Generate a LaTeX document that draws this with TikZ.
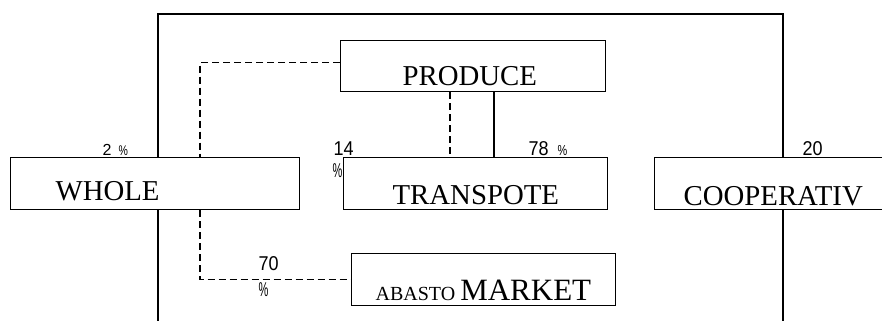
\documentclass[tikz,border=0pt]{standalone}
\usepackage{fontspec}
\setmainfont{Liberation Serif}
\newfontfamily\labelfont{Liberation Sans}
\begin{document}
\begin{tikzpicture}[x=1pt, y=-1pt,
  every path/.style={line width=1.2pt},
  chartbox/.style={draw, line width=1.2pt, rectangle, anchor=north west, inner sep=0pt},
  boxtext/.style={anchor=base west, inner sep=0pt, font=\fontsize{28.8}{30}\selectfont},
  pctlabel/.style={anchor=base west, inner sep=0pt},
  dsh/.style={dash pattern=on 7pt off 4pt}]
  \useasboundingbox (0,0) rectangle (882,321);

  % boxes
  \node[chartbox, minimum width=265pt, minimum height=51pt] (prod) at (340,40) {};
  \node[chartbox, minimum width=289pt, minimum height=52pt] (whole) at (10,157) {};
  \node[chartbox, minimum width=264pt, minimum height=52pt] (trans) at (343,157) {};
  \node[chartbox, minimum width=240pt, minimum height=52pt] (coop) at (654,157) {};
  \node[chartbox, minimum width=264pt, minimum height=52pt] (abasto) at (351,253) {};

  % box texts
  \node[boxtext] (prodt) at (402,85) {PRODUCE};
  \node[boxtext] (wholet) at (55,200) {WHOLE};
  \node[boxtext] (transt) at (392,204) {TRANSPOTE};
  \node[boxtext] (coopt) at (683,205) {COOPERATIV};
  \node[boxtext] (abastot) at (375,300)
    {{\fontsize{20}{24}\selectfont ABASTO }{\fontsize{31}{32}\selectfont MARKET}};

  % share labels
  \node[pctlabel] (p2) at (102,155)
    {\labelfont\fontsize{16}{16}\selectfont 2\hspace{7pt}\scalebox{0.75}[1]{\fontsize{14}{14}\selectfont\%}};
  \node[pctlabel] (p14) at (333,155)
    {\labelfont\scalebox{0.9}[1]{\fontsize{20}{20}\selectfont 14}};
  \node[pctlabel] (p14b) at (332,177)
    {\labelfont\scalebox{0.55}[1]{\fontsize{20}{20}\selectfont\%}};
  \node[pctlabel] (p78) at (528,155)
    {\labelfont\scalebox{0.9}[1]{\fontsize{20}{20}\selectfont 78}\hspace{9pt}\scalebox{0.75}[1]{\fontsize{14.5}{14.5}\selectfont\%}};
  \node[pctlabel] (p20) at (802,155)
    {\labelfont\scalebox{0.9}[1]{\fontsize{20}{20}\selectfont 20}};
  \node[pctlabel] (p70) at (258,270)
    {\labelfont\scalebox{0.9}[1]{\fontsize{20}{20}\selectfont 70}};
  \node[pctlabel] (p70b) at (258,296)
    {\labelfont\scalebox{0.55}[1]{\fontsize{20}{20}\selectfont\%}};

  % reference points for the connectors
  \coordinate (fl) at (158,14);
  \coordinate (fr) at (783,14);
  \coordinate (bot) at (0,321);
  \coordinate (dl) at (200,0);
  \coordinate (c1) at (450,0);
  \coordinate (c2) at (494,0);

  % outer frame
  \draw (fl |- whole.north) -- (fl) -- (fr) -- (fr |- coop.north);
  \draw (fl |- whole.south) -- (fl |- bot);
  \draw (fr |- coop.south) -- (fr |- bot);

  % links from PRODUCE
  \draw[dsh] ([yshift=3.5pt]prod.west) -| (dl |- whole.north);
  \draw[dsh] (c1 |- prod.south) -- (c1 |- trans.north);
  \draw (c2 |- prod.south) -- (c2 |- trans.north);

  % link from WHOLE to the market
  \draw[dsh] (dl |- whole.south) |- (abasto.west);
\end{tikzpicture}
\end{document}
